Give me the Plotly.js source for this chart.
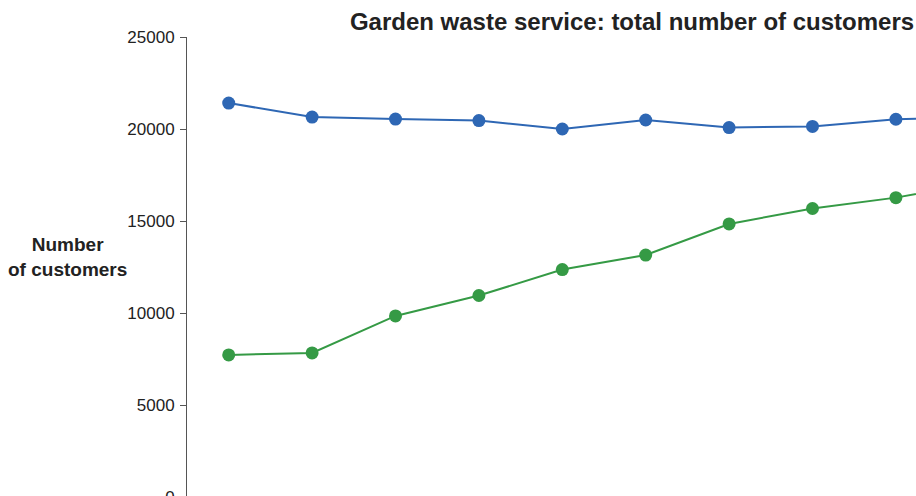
<!DOCTYPE html>
<html>
<head>
<meta charset="utf-8">
<script src="https://cdn.plot.ly/plotly-3.0.1.min.js"></script>
<style>
html, body { margin:0; padding:0; overflow:hidden; background:#fff; }
#chart { width:1060px; height:560px; }
</style>
</head>
<body>
<div id="chart"></div>
<script>
// Data
var categories = ["2010/11","2011/12","2012/13","2013/14","2014/15","2015/16","2016/17","2017/18","2018/19","2019/20"];
var seriesBlue = [21410, 20650, 20540, 20460, 20000, 20490, 20080, 20140, 20530, 20650];
var seriesGreen = [7720, 7830, 9840, 10950, 12360, 13150, 14840, 15680, 16270, 17100];
var yTicks = [0, 5000, 10000, 15000, 20000, 25000];
var yTickLabels = ["0", "5000", "10000", "15000", "20000", "25000"];

var W = 1060, H = 560;
var font = "Liberation Sans, Arial, Helvetica, sans-serif";

var traces = [
  {
    x: categories, y: seriesBlue, type: "scatter", mode: "lines+markers",
    line: {color: "#2e67b4", width: 2},
    marker: {color: "#2e67b4", size: 13},
    cliponaxis: false, showlegend: false, hoverinfo: "skip"
  },
  {
    x: categories, y: seriesGreen, type: "scatter", mode: "lines+markers",
    line: {color: "#359a45", width: 2},
    marker: {color: "#359a45", size: 13},
    cliponaxis: false, showlegend: false, hoverinfo: "skip"
  }
];

var layout = {
  width: W, height: H,
  paper_bgcolor: "#fff", plot_bgcolor: "#fff",
  margin: {l: 187, r: W - 187 - 834, t: 37, b: H - 497, pad: 0},
  font: {family: font, color: "#222"},
  title: {
    text: "<b>Garden waste service: total number of customers</b>",
    font: {family: font, size: 24, color: "#222"},
    xref: "container", x: 632 / W, xanchor: "center",
    yref: "container", y: 1 - 22 / H, yanchor: "middle"
  },
  xaxis: {
    type: "category", range: [-0.5, categories.length - 0.5],
    showline: true, linecolor: "#555", linewidth: 1,
    ticks: "outside", ticklen: 6, tickcolor: "#555",
    showgrid: false, zeroline: false, showticklabels: false,
    tickfont: {family: font, size: 17, color: "#222"}
  },
  yaxis: {
    range: [0, 25000], tickvals: yTicks, ticktext: yTickLabels,
    showline: true, linecolor: "#555", linewidth: 1,
    ticks: "outside", ticklen: 6, tickcolor: "#555",
    ticklabelstandoff: 2,
    showgrid: false, zeroline: false,
    tickfont: {family: font, size: 17, color: "#222"}
  },
  annotations: [{
    text: "<b>Number<br>of customers</b>",
    xref: "paper", yref: "paper",
    x: (67 - 187) / 834, y: (497 - 257) / 460,
    xanchor: "center", yanchor: "middle", showarrow: false, align: "center",
    font: {family: font, size: 19, color: "#222"}
  }]
};

Plotly.newPlot("chart", traces, layout, {displayModeBar: false, staticPlot: true});
</script>
</body>
</html>
